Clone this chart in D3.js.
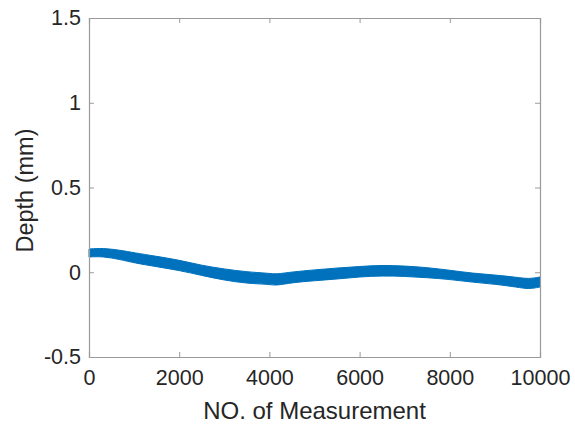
<!DOCTYPE html>
<html>
<head>
<meta charset="utf-8">
<script src="https://cdn.jsdelivr.net/npm/d3@7"></script>
<style>
  html, body { margin: 0; padding: 0; background: #fff; }
  svg { display: block; font-family: "Liberation Sans", Arial, Helvetica, sans-serif; }
</style>
</head>
<body>
<svg id="chart" width="575" height="424"></svg>
<script>
// Measurement index along the track
const measurement = [0, 300, 700, 1000, 1500, 2000, 2500, 3000, 3500, 4000, 4150, 4500, 5000,
                     5500, 6000, 6500, 7000, 7500, 8000, 8500, 9000, 9500, 9750, 10000];
// Upper and lower edges of the measured depth band (mm)
const depthUpper = [0.137, 0.143, 0.130, 0.115, 0.094, 0.072, 0.040, 0.019, 0.002, -0.006, -0.012, 0.002, 0.014,
                    0.025, 0.034, 0.042, 0.037, 0.028, 0.012, -0.006, -0.016, -0.030, -0.040, -0.028];
const depthLower = [0.090, 0.094, 0.075, 0.055, 0.033, 0.011, -0.019, -0.047, -0.066, -0.071, -0.079, -0.061, -0.050,
                    -0.040, -0.027, -0.021, -0.024, -0.032, -0.042, -0.059, -0.070, -0.088, -0.100, -0.087];

const xTicks = [0, 2000, 4000, 6000, 8000, 10000];
const yTicks = [-0.5, 0, 0.5, 1, 1.5];
const xLabel = "NO. of Measurement";
const yLabel = "Depth (mm)";

const svg = d3.select("#chart");
const m = { left: 89, right: 540, top: 18, bottom: 357 };

const x = d3.scaleLinear().domain([0, 10000]).range([m.left, m.right]);
const y = d3.scaleLinear().domain([-0.5, 1.5]).range([m.bottom, m.top]);

const axisColor = "#9a9a9a";
const textColor = "#262626";

// Data band
const band = measurement.map((v, i) => ({ m: v, hi: depthUpper[i], lo: depthLower[i] }));
const area = d3.area()
  .x(d => x(d.m))
  .y0(d => y(d.lo))
  .y1(d => y(d.hi))
  .curve(d3.curveBasis);

svg.append("path")
  .datum(band)
  .attr("d", area)
  .attr("fill", "#0072BD")
  .attr("stroke", "#0072BD")
  .attr("stroke-width", 1);

// Axes (ticks inside, mirrored on top/right)
const tickLen = 5;
const plain = v => String(v); // hyphen-minus for negatives
const gx = svg.append("g").attr("transform", `translate(0,${m.bottom})`)
  .call(d3.axisBottom(x).tickValues(xTicks).tickSize(-tickLen).tickPadding(10).tickFormat(plain));
const gy = svg.append("g").attr("transform", `translate(${m.left},0)`)
  .call(d3.axisLeft(y).tickValues(yTicks).tickSize(-tickLen).tickPadding(8).tickFormat(plain));
const gxt = svg.append("g").attr("transform", `translate(0,${m.top})`)
  .call(d3.axisTop(x).tickValues(xTicks).tickSize(-tickLen).tickFormat(""));
const gyr = svg.append("g").attr("transform", `translate(${m.right},0)`)
  .call(d3.axisRight(y).tickValues(yTicks).tickSize(-tickLen).tickFormat(""));

[gx, gy, gxt, gyr].forEach(g => {
  g.select(".domain").attr("stroke", axisColor).attr("stroke-width", 1.2);
  g.selectAll(".tick line").attr("stroke", axisColor);
  g.selectAll(".tick text").attr("fill", textColor).attr("font-size", 21.5)
    .attr("font-family", "'Liberation Sans', Arial, sans-serif");
});
gx.selectAll(".tick text").attr("dy", "0.86em");

// Axis labels
svg.append("text")
  .attr("x", (m.left + m.right) / 2)
  .attr("y", 419)
  .attr("text-anchor", "middle")
  .attr("fill", textColor)
  .attr("font-size", 24)
  .text(xLabel);

svg.append("text")
  .attr("transform", `translate(33,${(m.top + m.bottom) / 2 + 3}) rotate(-90)`)
  .attr("text-anchor", "middle")
  .attr("fill", textColor)
  .attr("font-size", 23.5)
  .text(yLabel);
</script>
</body>
</html>
